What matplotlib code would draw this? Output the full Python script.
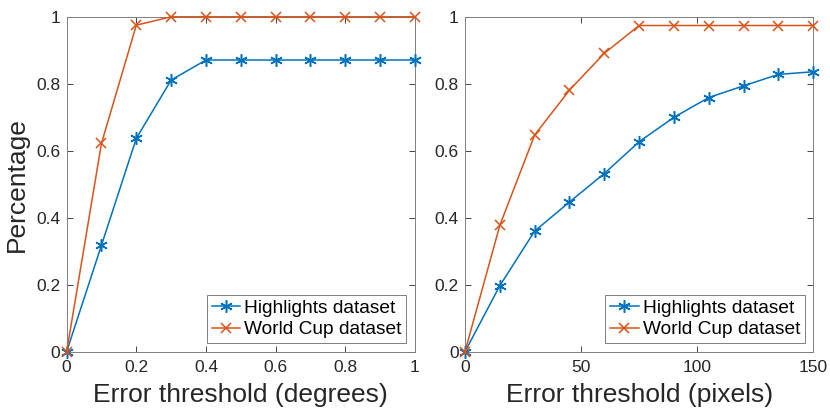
import matplotlib
matplotlib.use("Agg")
import matplotlib.pyplot as plt

plt.rcParams['font.family'] = ['Liberation Sans', 'DejaVu Sans']

deg_x = [0, 0.1, 0.2, 0.3, 0.4, 0.5, 0.6, 0.7, 0.8, 0.9, 1.0]
deg_highlights = [0, 0.318, 0.637, 0.811, 0.871, 0.871, 0.871, 0.871, 0.871, 0.871, 0.871]
deg_worldcup = [0, 0.622, 0.975, 1.0, 1.0, 1.0, 1.0, 1.0, 1.0, 1.0, 1.0]

pix_x = [0, 15, 30, 45, 60, 75, 90, 105, 120, 135, 150]
pix_highlights = [0, 0.197, 0.360, 0.447, 0.532, 0.627, 0.700, 0.759, 0.794, 0.828, 0.836]
pix_worldcup = [0, 0.377, 0.647, 0.781, 0.891, 0.974, 0.974, 0.974, 0.974, 0.974, 0.974]

deg_ticks = [0, 0.2, 0.4, 0.6, 0.8, 1.0]
deg_ticklabels = ['0', '0.2', '0.4', '0.6', '0.8', '1']
pix_ticks = [0, 50, 100, 150]
pix_ticklabels = ['0', '50', '100', '150']
y_ticks = [0, 0.2, 0.4, 0.6, 0.8, 1.0]
y_ticklabels = ['0', '0.2', '0.4', '0.6', '0.8', '1']

labels = ['Highlights dataset', 'World Cup dataset']
blue = '#0072BD'
orange = '#D95319'
axcol = '#262626'

fig = plt.figure(figsize=(8.3, 4.15), dpi=100)
ax1 = fig.add_axes([0.0803, 0.1525, 0.4196, 0.807])
ax2 = fig.add_axes([0.5602, 0.1525, 0.4197, 0.807])

def style(ax, x, h, w, xt, xtl, xlabel, xmax):
    ax.plot(x, h, color=blue, marker=(6, 2, 0), markersize=9, linewidth=1.1,
            markeredgewidth=1.1, label=labels[0], clip_on=False, zorder=3)
    ax.plot(x, w, color=orange, marker='x', markersize=7, linewidth=1.1,
            markeredgewidth=1.1, label=labels[1], clip_on=False, zorder=3)
    ax.set_xlim(0, xmax)
    ax.set_ylim(0, 1)
    ax.set_xticks(xt)
    ax.set_xticklabels(xtl)
    ax.set_yticks(y_ticks)
    ax.set_yticklabels(y_ticklabels)
    ax.tick_params(direction='in', top=True, right=True, length=4, width=0.6,
                   labelsize=12.5, colors=axcol)
    ax.tick_params(axis='x', pad=6)
    ax.tick_params(axis='y', pad=4.5)
    for s in ax.spines.values():
        s.set_color('#7f7f7f')
        s.set_linewidth(0.7)
    ax.set_xlabel(xlabel, fontsize=19, color=axcol, labelpad=6)
    leg = ax.legend(loc='lower right', fontsize=13.8, fancybox=False,
                    framealpha=1, edgecolor='#7f7f7f', borderaxespad=0.45,
                    handlelength=1.5, handletextpad=0.2, borderpad=0.25,
                    labelspacing=0.2)
    leg.get_frame().set_linewidth(0.7)

style(ax1, deg_x, deg_highlights, deg_worldcup, deg_ticks, deg_ticklabels,
      'Error threshold (degrees)', 1.0)
style(ax2, pix_x, pix_highlights, pix_worldcup, pix_ticks, pix_ticklabels,
      'Error threshold (pixels)', 150)
ax1.set_ylabel('Percentage', fontsize=19, color=axcol, labelpad=5)

fig.savefig('out.png', dpi=100)
